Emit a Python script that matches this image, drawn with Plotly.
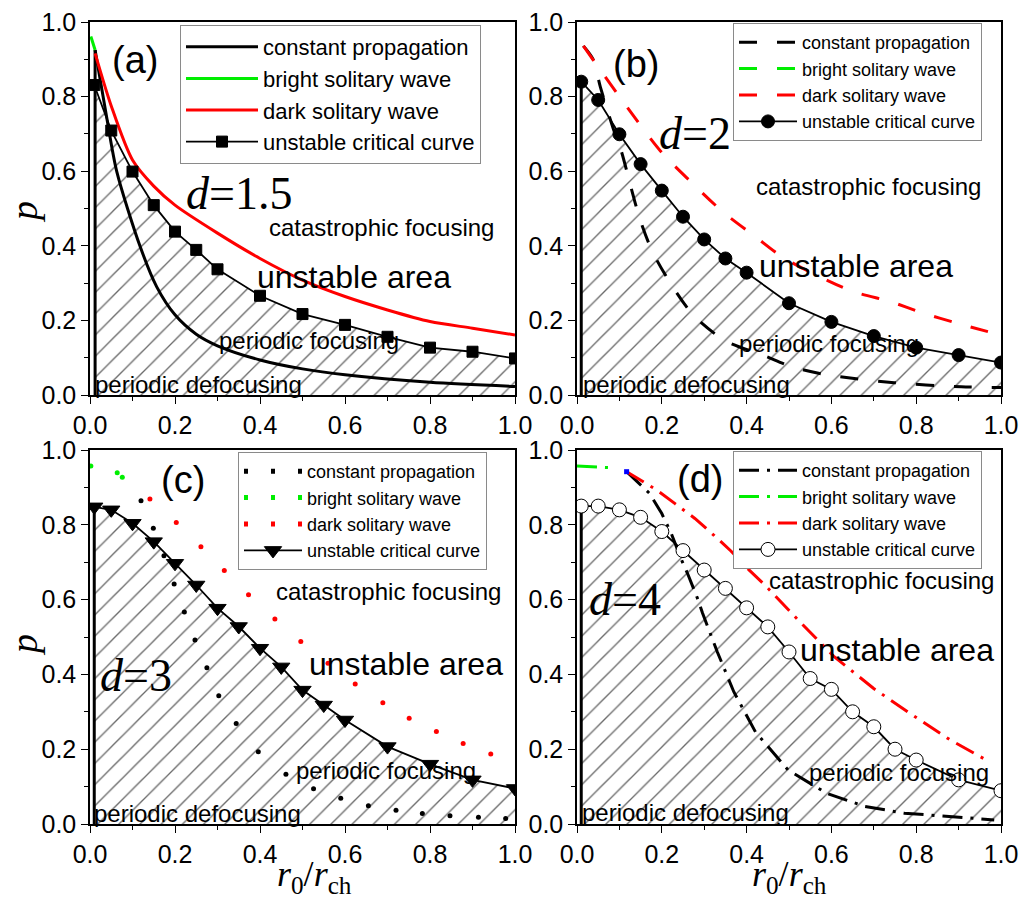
import plotly.graph_objects as go

# ---------------- data ----------------
# Panel (a): d = 1.5
a_cp_x = [0.012, 0.039, 0.063, 0.118, 0.157, 0.2, 0.25, 0.3, 0.4, 0.5, 0.6, 0.8, 1.0]
a_cp_y = [0.925, 0.746, 0.599, 0.398, 0.29, 0.215, 0.163, 0.132, 0.094, 0.07, 0.054, 0.034, 0.023]
a_br_x = [0.002, 0.012]
a_br_y = [0.961, 0.925]
a_dk_x = [0.012, 0.05, 0.1, 0.15, 0.2, 0.3, 0.4, 0.5, 0.6, 0.7, 0.8, 0.9, 1.0]
a_dk_y = [0.916, 0.775, 0.63, 0.56, 0.509, 0.434, 0.366, 0.308, 0.264, 0.228, 0.197, 0.179, 0.161]
a_un_x = [0.01, 0.05, 0.1, 0.15, 0.2, 0.25, 0.3, 0.4, 0.5, 0.6, 0.7, 0.8, 0.9, 1.0]
a_un_y = [0.831, 0.709, 0.599, 0.509, 0.438, 0.389, 0.337, 0.266, 0.217, 0.188, 0.156, 0.127, 0.116, 0.098]

# Panel (b): d = 2
b_cp_x = [0.015, 0.038, 0.055, 0.085, 0.105, 0.127, 0.149, 0.178, 0.223, 0.276, 0.349, 0.443,
          0.506, 0.59, 0.748, 0.906, 1.0]
b_cp_y = [0.936, 0.9, 0.826, 0.716, 0.652, 0.558, 0.469, 0.384, 0.295, 0.212, 0.146, 0.105,
          0.076, 0.054, 0.033, 0.022, 0.02]
b_br_x = [0.015]
b_br_y = [0.936]
b_dk_x = [0.015, 0.1, 0.2, 0.27, 0.345, 0.42, 0.49, 0.645, 0.74, 0.815, 0.895, 0.975]
b_dk_y = [0.936, 0.80, 0.65, 0.57, 0.49, 0.425, 0.366, 0.28, 0.25, 0.22, 0.193, 0.168]
b_un_x = [0.01, 0.05, 0.1, 0.15, 0.2, 0.25, 0.3, 0.35, 0.4, 0.5, 0.6, 0.7, 0.8, 0.9, 1.0]
b_un_y = [0.84, 0.791, 0.699, 0.619, 0.548, 0.478, 0.417, 0.366, 0.328, 0.246, 0.196, 0.158,
          0.127, 0.107, 0.087]

# Panel (c): d = 3
c_cp_x = [0.12, 0.149, 0.174, 0.198, 0.222, 0.247, 0.275, 0.303, 0.344, 0.396, 0.461, 0.526,
          0.59, 0.655, 0.72, 0.782, 0.847, 0.914, 0.978]
c_cp_y = [0.864, 0.791, 0.717, 0.642, 0.567, 0.492, 0.418, 0.343, 0.269, 0.193, 0.133, 0.094,
          0.069, 0.049, 0.037, 0.028, 0.022, 0.018, 0.015]
c_br_x = [0.002, 0.064, 0.076]
c_br_y = [0.957, 0.939, 0.927]
c_dk_x = [0.141, 0.203, 0.261, 0.316, 0.373, 0.435, 0.496, 0.56, 0.624, 0.689, 0.751, 0.815,
          0.878, 0.943]
c_dk_y = [0.869, 0.806, 0.741, 0.678, 0.613, 0.548, 0.488, 0.43, 0.374, 0.324, 0.283, 0.247,
          0.215, 0.187]
c_un_x = [0.01, 0.05, 0.1, 0.15, 0.2, 0.25, 0.3, 0.35, 0.4, 0.45, 0.5, 0.55, 0.6, 0.7, 0.8, 0.9, 1.0]
c_un_y = [0.848, 0.84, 0.804, 0.755, 0.697, 0.639, 0.577, 0.528, 0.47, 0.42, 0.358, 0.318,
          0.278, 0.207, 0.16, 0.118, 0.095]

# Panel (d): d = 4
d_cp_x = [0.117, 0.171, 0.2, 0.223, 0.247, 0.261, 0.286, 0.296, 0.331, 0.37, 0.421, 0.498,
          0.589, 0.679, 0.772, 0.88, 0.984]
d_cp_y = [0.942, 0.884, 0.83, 0.775, 0.705, 0.669, 0.598, 0.564, 0.46, 0.353, 0.246, 0.144,
          0.082, 0.047, 0.029, 0.019, 0.011]
d_br_x = [0.0, 0.075]
d_br_y = [0.957, 0.953]
d_dk_x = [0.117, 0.16, 0.188, 0.232, 0.278, 0.323, 0.363, 0.405, 0.443, 0.522, 0.605, 0.699,
          0.785, 0.88, 0.97]
d_dk_y = [0.942, 0.911, 0.893, 0.856, 0.817, 0.772, 0.73, 0.68, 0.639, 0.545, 0.449, 0.363,
          0.296, 0.225, 0.168]
d_un_x = [0.01, 0.05, 0.1, 0.15, 0.2, 0.25, 0.3, 0.35, 0.4, 0.45, 0.5, 0.55, 0.6, 0.65, 0.7,
          0.75, 0.8, 0.9, 1.0]
d_un_y = [0.85, 0.85, 0.84, 0.82, 0.782, 0.731, 0.679, 0.63, 0.578, 0.527, 0.46, 0.389, 0.36,
          0.3, 0.26, 0.2, 0.171, 0.118, 0.089]
d_junction_x = [0.117]
d_junction_y = [0.942]

legend_names = ["constant propagation", "bright solitary wave", "dark solitary wave",
                "unstable critical curve"]
tick_vals = [0.0, 0.2, 0.4, 0.6, 0.8, 1.0]
tick_text = ["0.0", "0.2", "0.4", "0.6", "0.8", "1.0"]

# ---------------- styling ----------------
BLACK = "#000000"
GREEN = "#00ee00"
RED = "#ff0000"
SANS = "Liberation Sans, Arial, sans-serif"
SERIF = "Liberation Serif, Times New Roman, serif"

fig = go.Figure()

hatch = dict(shape="/", size=15, solidity=0.09, fgcolor="#6a6a6a", bgcolor="white")

panels = [
    dict(xa="x", ya="y", leg="legend", cp=(a_cp_x, a_cp_y), br=(a_br_x, a_br_y),
         dk=(a_dk_x, a_dk_y), un=(a_un_x, a_un_y), style="solid", sym="square", msize=11,
         mfill=BLACK, edge=(a_cp_x[0], a_cp_y[0])),
    dict(xa="x2", ya="y2", leg="legend2", cp=(b_cp_x, b_cp_y), br=(b_br_x, b_br_y),
         dk=(b_dk_x, b_dk_y), un=(b_un_x, b_un_y), style="dash", sym="circle", msize=13,
         mfill=BLACK, edge=(b_un_x[0], b_un_y[0])),
    dict(xa="x3", ya="y3", leg="legend3", cp=(c_cp_x, c_cp_y), br=(c_br_x, c_br_y),
         dk=(c_dk_x, c_dk_y), un=(c_un_x, c_un_y), style="dot", sym="triangle-down", msize=15,
         mfill=BLACK, edge=(c_un_x[0], c_un_y[0])),
    dict(xa="x4", ya="y4", leg="legend4", cp=(d_cp_x, d_cp_y), br=(d_br_x, d_br_y),
         dk=(d_dk_x, d_dk_y), un=(d_un_x, d_un_y), style="dashdot", sym="circle", msize=14,
         mfill="white", edge=(d_un_x[0], d_un_y[0])),
]

DASH = {"solid": "solid", "dash": "18px,20px", "dashdot": "20px,8px,3px,8px"}

for p in panels:
    xa, ya, leg = p["xa"], p["ya"], p["leg"]
    ux, uy = p["un"]
    # hatched unstable area
    fig.add_trace(go.Scatter(x=ux, y=uy, xaxis=xa, yaxis=ya, mode="none", fill="tozeroy",
                             fillcolor="rgba(0,0,0,0)", fillpattern=hatch, showlegend=False,
                             hoverinfo="skip"))
    # left vertical boundary
    ex, ey = p["edge"]
    fig.add_trace(go.Scatter(x=[ex, ex], y=[0, ey], xaxis=xa, yaxis=ya, mode="lines",
                             line=dict(color=BLACK, width=3), showlegend=False, hoverinfo="skip"))
    series = [(p["cp"], BLACK, legend_names[0]), (p["br"], GREEN, legend_names[1]),
              (p["dk"], RED, legend_names[2])]
    for (sx, sy), col, name in series:
        if p["style"] == "dot":
            fig.add_trace(go.Scatter(x=sx, y=sy, xaxis=xa, yaxis=ya, mode="markers",
                                     marker=dict(color=col, size=5), showlegend=False))
            fig.add_trace(go.Scatter(x=[None], y=[None], xaxis=xa, yaxis=ya, mode="lines",
                                     line=dict(color=col, width=5, dash="4px,23px"),
                                     name=name, legend=leg))
        else:
            fig.add_trace(go.Scatter(x=sx, y=sy, xaxis=xa, yaxis=ya, mode="lines",
                                     line=dict(color=col, width=3, dash=DASH[p["style"]],
                                               shape="spline" if p["style"] != "dashdot" else "linear",
                                               smoothing=0.8),
                                     name=name, legend=leg))
    fig.add_trace(go.Scatter(x=ux, y=uy, xaxis=xa, yaxis=ya, mode="lines+markers",
                             line=dict(color=BLACK, width=1.8),
                             marker=dict(symbol=p["sym"], size=p["msize"], color=p["mfill"],
                                         line=dict(color=BLACK, width=1)),
                             name=legend_names[3], legend=leg))

fig.add_trace(go.Scatter(x=d_junction_x, y=d_junction_y, xaxis="x4", yaxis="y4", mode="markers",
                         marker=dict(symbol="square", size=5, color="#0000ff"), showlegend=False))

# ---------------- axes ----------------
xdom_l = [90 / 1021, 515 / 1021]
xdom_r = [577 / 1021, 1001 / 1021]
ydom_t = [1 - 395 / 901, 1 - 22 / 901]
ydom_b = [1 - 824 / 901, 1 - 450 / 901]

axis_common = dict(range=[0, 1], tickvals=tick_vals, ticktext=tick_text, ticks="outside",
                    ticklen=7, tickwidth=1.2, tickcolor=BLACK, showline=True, linecolor=BLACK,
                    linewidth=1.5, mirror=True, showgrid=False, zeroline=False,
                    automargin=False,
                    tickfont=dict(family=SANS, size=25, color=BLACK),
                    minor=dict(ticks="outside", ticklen=4, dtick=0.1, tickcolor=BLACK,
                               showgrid=False))

fig.update_layout(
    template="none",
    xaxis=dict(domain=xdom_l, anchor="y", **axis_common),
    yaxis=dict(domain=ydom_t, anchor="x", **axis_common),
    xaxis2=dict(domain=xdom_r, anchor="y2", **axis_common),
    yaxis2=dict(domain=ydom_t, anchor="x2", **axis_common),
    xaxis3=dict(domain=xdom_l, anchor="y3", **axis_common),
    yaxis3=dict(domain=ydom_b, anchor="x3", **axis_common),
    xaxis4=dict(domain=xdom_r, anchor="y4", **axis_common),
    yaxis4=dict(domain=ydom_b, anchor="x4", **axis_common),
)

leg_common = dict(xanchor="left", yanchor="top", bgcolor="white", bordercolor="#8a8a8a",
                  borderwidth=1, xref="paper", yref="paper")
fig.update_layout(
    legend=dict(x=180 / 1021, y=1 - 25 / 901, font=dict(family=SANS, size=22, color=BLACK),
                itemwidth=72, **leg_common),
    legend2=dict(x=733 / 1021, y=1 - 23 / 901, font=dict(family=SANS, size=18, color=BLACK),
                 itemwidth=58, **leg_common),
    legend3=dict(x=238 / 1021, y=1 - 452 / 901, font=dict(family=SANS, size=18, color=BLACK),
                 itemwidth=58, **leg_common),
    legend4=dict(x=733 / 1021, y=1 - 451 / 901, font=dict(family=SANS, size=18, color=BLACK),
                 itemwidth=58, **leg_common),
)

# ---------------- text ----------------
ann = []


def txt(xr, yr, x, y, text, size, family=SANS):
    ann.append(dict(xref=xr, yref=yr, x=x, y=y, text=text, showarrow=False, xanchor="center",
                    yanchor="middle", font=dict(family=family, size=size, color=BLACK)))


panel_text = [
    ("x", "y", "(a)", (0.106, 0.898), "<i>d</i>=1.5", (0.351, 0.54),
     (0.685, 0.45), (0.621, 0.316), (0.515, 0.145), (0.256, 0.027)),
    ("x2", "y2", "(b)", (0.139, 0.887), "<i>d</i>=2", (0.278, 0.70),
     (0.688, 0.558), (0.658, 0.346), (0.594, 0.139), (0.258, 0.029)),
    ("x3", "y3", "(c)", (0.219, 0.92), "<i>d</i>=3", (0.108, 0.396),
     (0.702, 0.623), (0.744, 0.428), (0.697, 0.142), (0.252, 0.029)),
    ("x4", "y4", "(d)", (0.29, 0.922), "<i>d</i>=4", (0.113, 0.60),
     (0.718, 0.65), (0.755, 0.465), (0.76, 0.139), (0.257, 0.032)),
]
for xr, yr, lab, lp, dl, dp, cf, ua, pf, pd in panel_text:
    txt(xr, yr, lp[0], lp[1], lab, 38)
    txt(xr, yr, dp[0], dp[1], dl, 46, SERIF)
    txt(xr, yr, cf[0], cf[1], "catastrophic focusing", 24)
    txt(xr, yr, ua[0], ua[1], "unstable area", 32)
    txt(xr, yr, pf[0], pf[1], "periodic focusing", 24)
    txt(xr, yr, pd[0], pd[1], "periodic defocusing", 24)

# axis titles
for yy in (1 - 212 / 901, 1 - 645 / 901):
    ann.append(dict(xref="paper", yref="paper", x=24 / 1021, y=yy, text="<i>p</i>",
                    textangle=-90, showarrow=False, xanchor="center", yanchor="middle",
                    font=dict(family=SERIF, size=38, color=BLACK)))
for xx in (314 / 1021, 789 / 1021):
    ann.append(dict(xref="paper", yref="paper", x=xx, y=1 - 876 / 901,
                    text="<i>r</i><sub>0</sub>/<i>r</i><sub>ch</sub>", showarrow=False,
                    xanchor="center", yanchor="middle",
                    font=dict(family=SERIF, size=36, color=BLACK)))

fig.update_layout(annotations=ann, width=1021, height=901,
                  margin=dict(l=0, r=0, t=0, b=0), plot_bgcolor="white", paper_bgcolor="white",
                  showlegend=True)

fig.write_html("out.html")
